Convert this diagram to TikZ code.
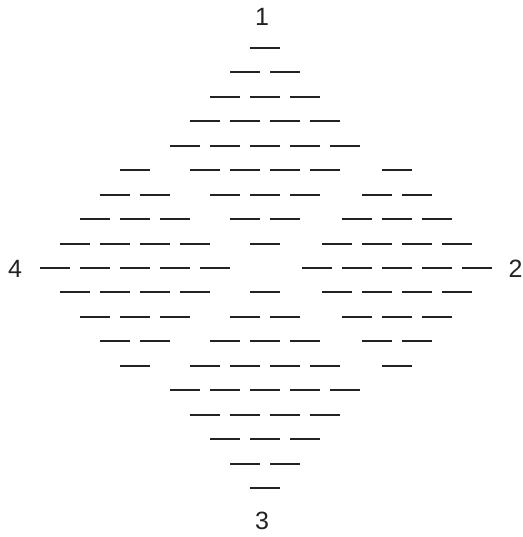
\documentclass[tikz,border=0pt]{standalone}
\usepackage{fontspec}
\setmainfont{Liberation Sans}
\definecolor{ink}{HTML}{222222}
\tikzset{
  dashseg/.style={draw=ink, line width=2pt},
  lbl/.style={text=ink, font=\fontsize{25}{30}\selectfont, inner sep=0pt, anchor=center}
}
\begin{document}
\begin{tikzpicture}[x=1pt,y=-1pt]
\useasboundingbox (0,0) rectangle (522,537);
% four diamonds of dashes: centre x, centre row
\foreach \cx/\cr in {265/5, 265/15, 134.5/10, 396.5/10}{
  \foreach \d in {-4,...,4}{
    \pgfmathtruncatemacro{\n}{5-abs(\d)}
    \pgfmathsetmacro{\yy}{round(47.7+(\cr+\d-1)*24.48)}
    \foreach \k in {1,...,\n}{
      \pgfmathsetmacro{\xx}{\cx+40*(\k-1-(\n-1)/2)}
      \draw[dashseg] (\xx-15,\yy) -- (\xx+15,\yy);
    }
  }
}
\node[lbl] (l1) at (262,17) {1};
\node[lbl] (l2) at (515.5,269) {2};
\node[lbl] (l3) at (262,521) {3};
\node[lbl] (l4) at (15,269) {4};
\end{tikzpicture}
\end{document}
